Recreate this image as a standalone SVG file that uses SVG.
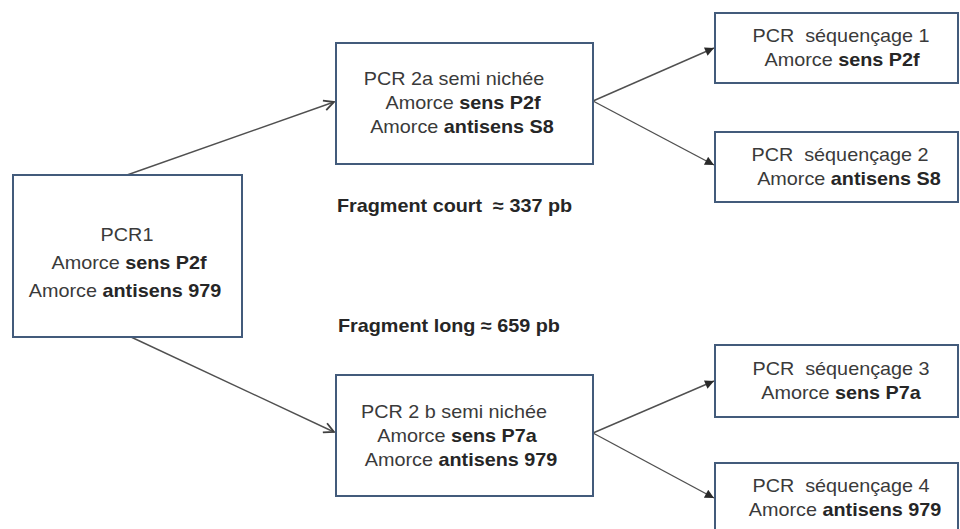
<svg xmlns="http://www.w3.org/2000/svg" width="960" height="529" viewBox="0 0 960 529">
<style>
.box{fill:#ffffff;stroke:#435b7b;stroke-width:2}
.t{font-family:"Liberation Sans",Arial,sans-serif;font-size:18px;fill:#3a3a3a}
.b{font-weight:bold;fill:#262626}
.m{text-anchor:middle}
.con{stroke:#505050;stroke-width:1.4;fill:none}
</style>
<defs>
<marker id="open" viewBox="0 0 12 12" refX="11" refY="6" markerWidth="12" markerHeight="12" markerUnits="userSpaceOnUse" orient="auto">
<path d="M1,1 L11,6 L1,11" fill="none" stroke="#404040" stroke-width="1.8"/>
</marker>
<marker id="fill" viewBox="0 0 10 10" refX="10" refY="5" markerWidth="10" markerHeight="9" markerUnits="userSpaceOnUse" orient="auto">
<path d="M0,0 L10,5 L0,10 Z" fill="#2a2a2a"/>
</marker>
</defs>
<rect width="960" height="529" fill="#ffffff"/>
<g id="connectors">
<line class="con" x1="127" y1="175" x2="334" y2="102" marker-end="url(#open)"/>
<line class="con" x1="131" y1="337" x2="334" y2="432" marker-end="url(#open)"/>
<line class="con" x1="593" y1="101" x2="714" y2="48" marker-end="url(#fill)"/>
<line class="con" x1="593" y1="101" x2="714" y2="165" marker-end="url(#fill)"/>
<line class="con" x1="593" y1="433" x2="714" y2="381" marker-end="url(#fill)"/>
<line class="con" x1="593" y1="433" x2="714" y2="498" marker-end="url(#fill)"/>
</g>
<g id="pcr1">
<rect class="box" x="13" y="175" width="229" height="162"/>
<text class="t m" transform="translate(127,241) scale(1.1,1)">PCR1</text>
<text class="t m" transform="translate(129,269) scale(1.1,1)">Amorce <tspan class="b">sens P2f</tspan></text>
<text class="t m" transform="translate(125,297) scale(1.1,1)">Amorce <tspan class="b">antisens 979</tspan></text>
</g>
<g id="pcr2a">
<rect class="box" x="336" y="43" width="257" height="121"/>
<text class="t m" transform="translate(454,85) scale(1.1,1)">PCR 2a semi nichée</text>
<text class="t m" transform="translate(463,109) scale(1.1,1)">Amorce <tspan class="b">sens P2f</tspan></text>
<text class="t m" transform="translate(462,133) scale(1.1,1)">Amorce <tspan class="b">antisens S8</tspan></text>
</g>
<g id="pcr2b">
<rect class="box" x="336" y="375" width="257" height="121"/>
<text class="t m" transform="translate(454,418) scale(1.1,1)">PCR 2 b semi nichée</text>
<text class="t m" transform="translate(457,442) scale(1.1,1)">Amorce <tspan class="b">sens P7a</tspan></text>
<text class="t m" transform="translate(461,466) scale(1.1,1)">Amorce <tspan class="b">antisens 979</tspan></text>
</g>
<g id="seq1">
<rect class="box" x="715" y="13" width="243" height="70"/>
<text class="t m" xml:space="preserve" transform="translate(841,42) scale(1.1,1)">PCR  séquençage 1</text>
<text class="t m" transform="translate(842,66) scale(1.1,1)">Amorce <tspan class="b">sens P2f</tspan></text>
</g>
<g id="seq2">
<rect class="box" x="715" y="132" width="243" height="70"/>
<text class="t m" xml:space="preserve" transform="translate(840,161) scale(1.1,1)">PCR  séquençage 2</text>
<text class="t m" transform="translate(849,185) scale(1.1,1)">Amorce <tspan class="b">antisens S8</tspan></text>
</g>
<g id="seq3">
<rect class="box" x="715" y="345" width="243" height="72"/>
<text class="t m" xml:space="preserve" transform="translate(841,375) scale(1.1,1)">PCR  séquençage 3</text>
<text class="t m" transform="translate(841,399) scale(1.1,1)">Amorce <tspan class="b">sens P7a</tspan></text>
</g>
<g id="seq4">
<rect class="box" x="715" y="463" width="243" height="72"/>
<text class="t m" xml:space="preserve" transform="translate(841,492) scale(1.1,1)">PCR  séquençage 4</text>
<text class="t m" transform="translate(845,516) scale(1.1,1)">Amorce <tspan class="b">antisens 979</tspan></text>
</g>
<g id="labels">
<text class="t b" xml:space="preserve" transform="translate(337,212) scale(1.1,1)">Fragment court  ≈ 337 pb</text>
<text class="t b" transform="translate(338,332) scale(1.1,1)">Fragment long ≈ 659 pb</text>
</g>
</svg>
